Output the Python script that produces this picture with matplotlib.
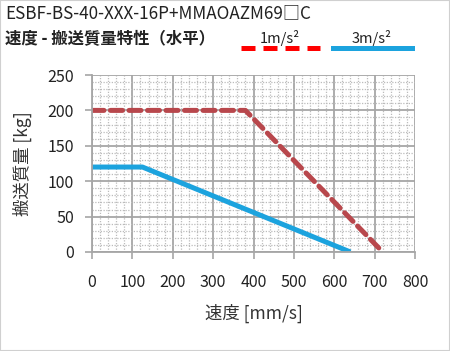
import matplotlib.pyplot as plt
from matplotlib.patches import Rectangle
from matplotlib.lines import Line2D
from matplotlib.ticker import MultipleLocator

plt.rcParams['font.family'] = ['Noto Sans CJK JP', 'DejaVu Sans']

# --- data ---
speed_1g = [0, 380, 720]
mass_1g = [200, 200, 0]
speed_3g = [0, 125, 640]
mass_3g = [120, 120, 0]

x_ticks = [0, 100, 200, 300, 400, 500, 600, 700, 800]
y_ticks = [0, 50, 100, 150, 200, 250]

RED = "#b8474c"
BLUE = "#1ca3de"
GRID = "#a6a6a6"

fig = plt.figure(figsize=(4.5, 3.51), dpi=100)
ax = fig.add_axes([92 / 450, 1 - 252 / 351, 323 / 450, 177 / 351])

# minor dotted grid, major solid grid
ax.xaxis.set_minor_locator(MultipleLocator(20))
ax.yaxis.set_minor_locator(MultipleLocator(10))
ax.grid(which="minor", color="#bcbcbc", linestyle=(0, (1, 1.2)), linewidth=0.9)
ax.grid(which="major", color=GRID, linestyle="-", linewidth=1.3)
ax.set_axisbelow(True)

ax.plot(speed_1g, mass_1g, color=RED, linewidth=3.6, linestyle=(0, (2.4, 1.3)),
        dash_capstyle="round", solid_joinstyle="round")
ax.plot(speed_3g, mass_3g, color=BLUE, linewidth=3.6, solid_capstyle="butt")

ax.set_xlim(0, 800)
ax.set_ylim(0, 250)
ax.set_xticks(x_ticks)
ax.set_yticks(y_ticks)
ax.tick_params(which="major", length=5, width=1.2, color=GRID, labelsize=11.5,
               labelcolor="#222222")
ax.tick_params(axis="x", pad=11)
ax.tick_params(axis="y", pad=8)
ax.tick_params(which="minor", length=0)
for side in ["top", "right"]:
    ax.spines[side].set_visible(False)
for side in ["left", "bottom"]:
    ax.spines[side].set_color(GRID)
    ax.spines[side].set_linewidth(1.3)

ax.set_xlabel("速度 [mm/s]", fontsize=12.5, color="#333333", labelpad=9)
ax.set_ylabel("搬送質量 [kg]", fontsize=12.5, color="#333333", labelpad=11)

# titles
fig.text(5 / 450, 1 - 13 / 351, "ESBF-BS-40-XXX-16P+MMAOAZM69□C", fontsize=12.3,
         ha="left", va="center", color="#222222")
fig.text(5 / 450, 1 - 38 / 351, "速度 - 搬送質量特性（水平）", fontsize=11.8,
         fontweight="bold", ha="left", va="center", color="#222222")

# legend drawn by hand
fig.add_artist(Line2D([241 / 450, 320 / 450], [1 - 48 / 351] * 2, color="#ff0000",
                      linewidth=3.6, linestyle=(0, (2.8, 1.6))))
fig.text(280 / 450, 1 - 38 / 351, "1m/s²", fontsize=10.5, ha="center", va="center",
         color="#222222")
fig.add_artist(Line2D([333 / 450, 412 / 450], [1 - 48 / 351] * 2, color=BLUE,
                      linewidth=3.6))
fig.text(372 / 450, 1 - 38 / 351, "3m/s²", fontsize=10.5, ha="center", va="center",
         color="#222222")

# outer frame
fig.add_artist(Rectangle((0, 0), 1, 1, transform=fig.transFigure, fill=False,
                         edgecolor="#d0d0d0", linewidth=1.5))

fig.savefig("out.png", dpi=100)
